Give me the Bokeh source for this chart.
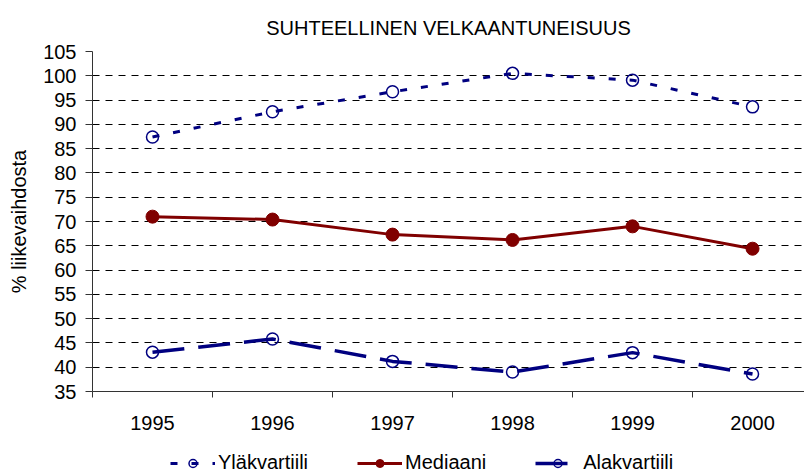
from bokeh.plotting import figure
from bokeh.layouts import column
from bokeh.models import Range1d, FixedTicker, Legend, LegendItem
from bokeh.embed import file_html
from bokeh.resources import INLINE

# ---- data ----
years = ["1995", "1996", "1997", "1998", "1999", "2000"]
ylakvartiili = [87.4, 92.6, 96.7, 100.5, 99.1, 93.6]
mediaani = [71.0, 70.4, 67.3, 66.2, 69.0, 64.4]
alakvartiili = [43.1, 45.8, 41.2, 39.0, 43.0, 38.6]
y_ticks = [35, 40, 45, 50, 55, 60, 65, 70, 75, 80, 85, 90, 95, 100, 105]

title_text = "SUHTEELLINEN VELKAANTUNEISUUS"
y_label = "% liikevaihdosta"
names = ["Yläkvartiili", "Mediaani", "Alakvartiili"]

FONT = "Liberation Sans"
NAVY = "#000080"
DARKRED = "#800000"

# category centres and boundaries on a numeric axis
xs = [i + 0.5 for i in range(len(years))]
bounds = [float(i) for i in range(len(years))]

p = figure(frame_width=712, frame_height=340, output_backend="svg", toolbar_location=None,
           x_range=Range1d(0, 5.933), y_range=Range1d(35, 105),
           min_border_left=92, min_border_right=0, min_border_top=51,
           min_border_bottom=60)
p.outline_line_color = None
p.background_fill_color = "white"
p.border_fill_color = "white"

# title
p.title.text = title_text
p.title.align = "center"
p.title.text_font = FONT
p.title.text_font_size = "20px"
p.title.text_font_style = "normal"
p.title.text_color = "black"
p.title.standoff = 25

# x axis
p.xaxis.ticker = FixedTicker(ticks=xs, minor_ticks=bounds)
p.xaxis.major_label_overrides = {x: y for x, y in zip(xs, years)}
p.xaxis.major_tick_line_color = None
p.xaxis.major_tick_out = 0
p.xaxis.major_tick_in = 0
p.xaxis.minor_tick_out = 6
p.xaxis.minor_tick_in = 0
p.xaxis.minor_tick_line_color = "#333333"
p.xaxis.axis_line_color = "#333333"
p.xaxis.major_label_text_font = FONT
p.xaxis.major_label_text_font_size = "20px"
p.xaxis.major_label_text_color = "black"
p.xaxis.major_label_standoff = 18
p.xgrid.visible = False

# y axis
p.yaxis.ticker = FixedTicker(ticks=y_ticks)
p.yaxis.minor_tick_line_color = None
p.yaxis.major_tick_out = 7
p.yaxis.major_tick_in = 0
p.yaxis.major_tick_line_color = "#333333"
p.yaxis.axis_line_color = "#333333"
p.yaxis.major_label_text_font = FONT
p.yaxis.major_label_text_font_size = "20px"
p.yaxis.major_label_text_color = "black"
p.yaxis.major_label_standoff = 9
p.yaxis.axis_label = y_label
p.yaxis.axis_label_text_font = FONT
p.yaxis.axis_label_text_font_size = "20px"
p.yaxis.axis_label_text_font_style = "normal"
p.yaxis.axis_label_text_color = "black"
p.yaxis.axis_label_standoff = 10

p.ygrid.ticker = FixedTicker(ticks=y_ticks)
p.ygrid.grid_line_color = "black"
p.ygrid.grid_line_width = 1
p.ygrid.grid_line_dash = "7 6"

# series styles
styles = [
    dict(line=dict(line_color=NAVY, line_width=3, line_dash="7 14"),
         mark=dict(marker="circle", size=12, line_color=NAVY, line_width=1.5, fill_color=None)),
    dict(line=dict(line_color=DARKRED, line_width=3),
         mark=dict(marker="circle", size=13, line_color=DARKRED, fill_color=DARKRED)),
    dict(line=dict(line_color=NAVY, line_width=3.5, line_dash="32 14"),
         mark=dict(marker="circle", size=12, line_color=NAVY, line_width=1.5, fill_color=None)),
]
series = [ylakvartiili, mediaani, alakvartiili]
for vals, st in zip(series, styles):
    p.line(xs, vals, **st["line"])
    p.scatter(xs, vals, **st["mark"])

# legend strip below the chart (separate small figure so it is never clipped);
# its renderers reuse the series data, which lies outside this strip's ranges
lg = figure(frame_width=712, frame_height=23, output_backend="svg", toolbar_location=None,
            x_range=Range1d(0, 1), y_range=Range1d(0, 1),
            x_axis_location=None, y_axis_location=None,
            min_border_left=92, min_border_right=0, min_border_top=0,
            min_border_bottom=0)
lg.outline_line_color = None
lg.xgrid.visible = False
lg.ygrid.visible = False
lg.background_fill_color = "white"
lg.border_fill_color = "white"

items = []
for name, vals, st in zip(names, series, styles):
    r_line = lg.line(xs, vals, **st["line"])
    r_mark = lg.scatter(xs, vals, **st["mark"])
    items.append(LegendItem(label=name, renderers=[r_line, r_mark]))

legend = Legend(items=items, orientation="horizontal", location=(78, 0),
                glyph_width=45, glyph_height=20, label_standoff=3,
                spacing=49, padding=0, margin=0,
                border_line_alpha=0, background_fill_alpha=0,
                label_text_font=FONT, label_text_font_size="20px",
                label_text_color="black")
lg.add_layout(legend, "center")

layout = column(p, lg, spacing=0)
open("out.html", "w").write(file_html(layout, INLINE))
